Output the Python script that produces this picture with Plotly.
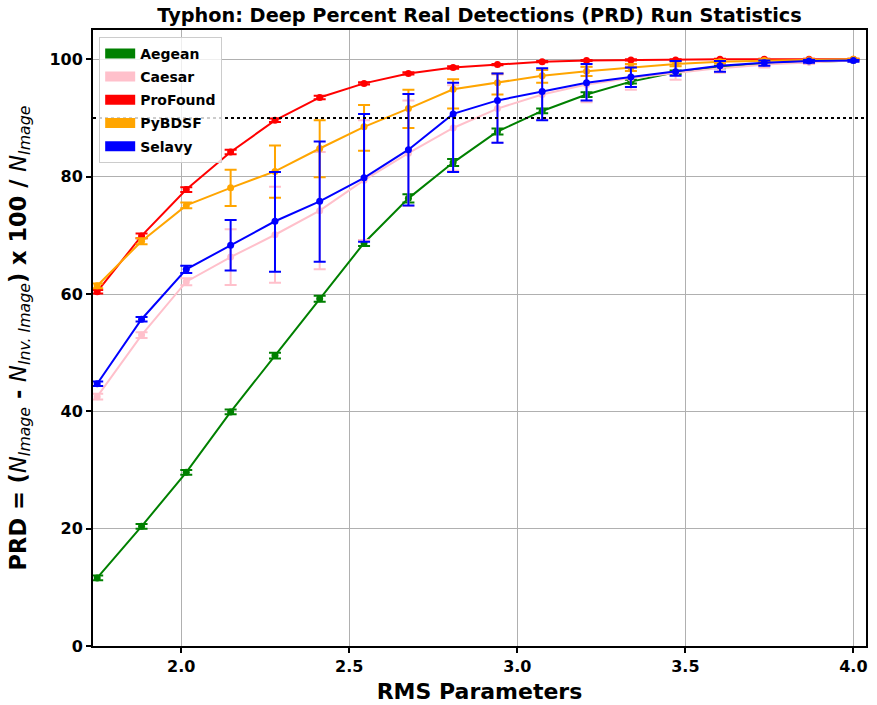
import plotly.graph_objects as go

rms = [1.75, 1.882, 2.015, 2.147, 2.279, 2.412, 2.544, 2.676, 2.809,
       2.941, 3.074, 3.206, 3.338, 3.471, 3.603, 3.735, 3.868, 4.0]

aegean = [11.6, 20.4, 29.6, 39.9, 49.5, 59.2, 68.7, 76.3, 82.4, 87.7, 91.2,
          94.0, 96.2, 97.8, 98.7, 99.3, 99.6, 99.8]
aegean_err = [0.4, 0.4, 0.4, 0.4, 0.5, 0.5, 0.5, 0.7, 0.6, 0.5, 0.4, 0.4,
              0.3, 0.3, 0.2, 0.2, 0.1, 0.1]

caesar = [42.5, 53.0, 62.1, 66.3, 70.1, 74.2, 79.4, 84.0, 88.3, 91.6, 94.0,
          95.7, 96.8, 97.7, 98.5, 99.1, 99.5, 99.8]
caesar_err = [0.5, 0.5, 0.6, 4.75, 8.2, 10.0, 10.2, 9.0, 7.3, 5.8, 4.2, 3.0,
              2.0, 1.2, 0.8, 0.5, 0.3, 0.2]

profound = [60.4, 69.9, 77.8, 84.2, 89.6, 93.5, 95.9, 97.6, 98.6, 99.1, 99.6,
            99.8, 99.9, 99.9, 100.0, 100.0, 100.0, 100.0]
profound_err = [0.3, 0.4, 0.4, 0.4, 0.3, 0.3, 0.2, 0.2, 0.2, 0.1, 0.1, 0.1,
                0.1, 0.1, 0.1, 0.1, 0.1, 0.1]

pybdsf = [61.4, 69.0, 75.1, 78.1, 80.9, 84.8, 88.5, 91.6, 94.9, 96.0, 97.2,
          97.95, 98.6, 99.2, 99.6, 99.8, 99.9, 100.0]
pybdsf_up = [0.4, 0.5, 0.5, 3.1, 4.4, 4.8, 3.7, 3.2, 1.7, 1.6, 1.0, 0.8,
             0.6, 0.4, 0.3, 0.2, 0.1, 0.1]
pybdsf_dn = [0.4, 0.5, 0.5, 3.1, 4.5, 4.9, 4.1, 3.3, 3.3, 2.0, 1.2, 0.8,
             0.6, 0.4, 0.3, 0.2, 0.1, 0.1]

selavy = [44.7, 55.7, 64.2, 68.3, 72.4, 75.8, 79.8, 84.6, 90.7, 93.0, 94.5,
          96.0, 97.0, 97.9, 98.9, 99.4, 99.7, 99.8]
selavy_up = [0.4, 0.4, 0.6, 4.3, 8.4, 10.2, 10.9, 9.5, 5.3, 4.6, 4.0, 3.2,
             1.6, 1.8, 0.8, 0.4, 0.2, 0.1]
selavy_dn = [0.4, 0.4, 0.6, 4.3, 8.6, 10.3, 10.9, 9.5, 9.9, 7.2, 4.9, 3.0,
             1.7, 0.7, 1.0, 0.5, 0.3, 0.2]

names = ["Aegean", "Caesar", "ProFound", "PyBDSF", "Selavy"]
colors = ["green", "pink", "red", "orange", "blue"]
threshold = 90

series = [
    (aegean, aegean_err, aegean_err),
    (caesar, caesar_err, caesar_err),
    (profound, profound_err, profound_err),
    (pybdsf, pybdsf_up, pybdsf_dn),
    (selavy, selavy_up, selavy_dn),
]

fig = go.Figure()
for (vals, up, dn), name, col in zip(series, names, colors):
    fig.add_trace(go.Scatter(
        x=rms, y=vals, mode="lines+markers", name=name, showlegend=False,
        line=dict(color=col, width=2), marker=dict(color=col, size=7),
        error_y=dict(type="data", symmetric=False, array=up, arrayminus=dn,
                     color=col, thickness=2, width=6),
    ))
for name, col in zip(names, colors):
    fig.add_trace(go.Scatter(
        x=[None], y=[None], mode="lines", name="<b>" + name + "</b>",
        legendgroup=name, line=dict(color=col, width=10),
    ))

fig.add_hline(y=threshold, line=dict(color="black", width=2, dash="dot"))

ytitle = ("<b>PRD = (</b><i>N</i><sub><i>Image</i></sub><b> - </b>"
          "<i>N</i><sub><i>Inv. Image</i></sub><b>) x 100 / </b>"
          "<i>N</i><sub><i>Image</i></sub>")

fig.update_layout(
    width=877, height=705,
    margin=dict(l=93, r=11, t=30, b=59, autoexpand=False),
    paper_bgcolor="white", plot_bgcolor="white",
    font=dict(family="DejaVu Sans", color="black"),
    title=dict(text="<b>Typhon: Deep Percent Real Detections (PRD) Run Statistics</b>",
               xref="paper", x=0.5, xanchor="center", y=0.979, yanchor="middle",
               font=dict(size=19.3)),
    legend=dict(x=0.008, y=0.989, xanchor="left", yanchor="top",
                bgcolor="rgba(255,255,255,0.8)", bordercolor="#cccccc",
                borderwidth=1, font=dict(size=14, family="DejaVu Sans"),
                tracegroupgap=2, itemwidth=30),
)
fig.update_xaxes(
    range=[1.7375, 4.0375], tickvals=[2.0, 2.5, 3.0, 3.5, 4.0],
    ticktext=["<b>2.0</b>", "<b>2.5</b>", "<b>3.0</b>", "<b>3.5</b>", "<b>4.0</b>"],
    showgrid=True, gridcolor="#b0b0b0", gridwidth=1,
    showline=True, linecolor="black", linewidth=2, mirror=True,
    ticks="outside", ticklen=5, tickwidth=1.5, tickcolor="black",
    tickfont=dict(size=16), zeroline=False, automargin=False,
    title=dict(text="<b>RMS Parameters</b>", font=dict(size=22), standoff=8),
)
fig.update_yaxes(
    range=[0, 105], tickvals=[0, 20, 40, 60, 80, 100],
    ticktext=["<b>0</b>", "<b>20</b>", "<b>40</b>", "<b>60</b>", "<b>80</b>", "<b>100</b>"],
    showgrid=True, gridcolor="#b0b0b0", gridwidth=1,
    showline=True, linecolor="black", linewidth=2, mirror=True,
    ticks="outside", ticklen=5, tickwidth=1.5, tickcolor="black",
    tickfont=dict(size=16), zeroline=False, automargin=False,
    title=dict(text=ytitle, font=dict(size=22.5), standoff=17),
)

fig.write_html("out.html", config={"displayModeBar": False},
               post_script="document.body.style.margin='0';")
